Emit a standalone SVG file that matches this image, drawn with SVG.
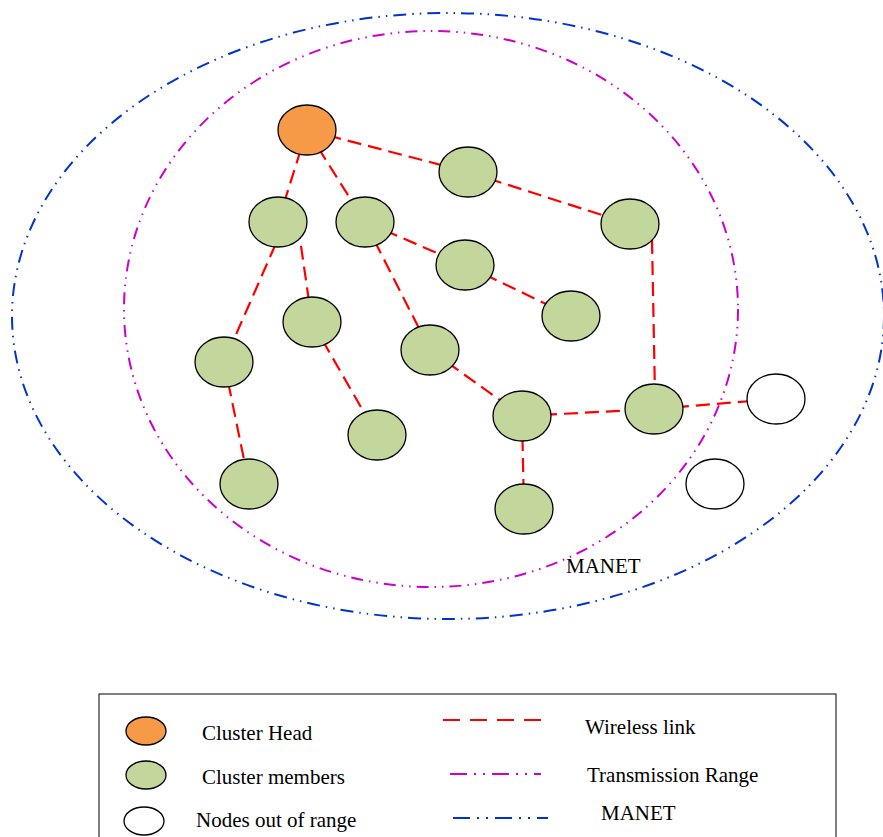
<svg xmlns="http://www.w3.org/2000/svg" width="883" height="837" viewBox="0 0 883 837">
<style>
.node{stroke:#000;stroke-width:1.3}
.ch{fill:#f79a48}
.cm{fill:#c3d69b}
.out{fill:#fff}
.link{stroke:#ff0000;stroke-width:2.2;stroke-dasharray:14 7;fill:none}
.tr{stroke:#cc00cc;stroke-width:2;stroke-dasharray:12 6 1.5 6 1.5 6;fill:none}
.mn{stroke:#0033cc;stroke-width:2;stroke-dasharray:13 6 1.5 6 1.5 6;fill:none}
.lg-link{stroke-dasharray:17 10}
.lg-tr{stroke-dasharray:17 7 2 7 2 7}
.lg-mn{stroke-dasharray:17 7 2 7 2 7}
text{font-family:"Liberation Serif","Times New Roman",serif;font-size:21px;fill:#000}
</style>
<rect width="883" height="837" fill="#fff"/>
<g id="ranges">
<ellipse id="manet-range" class="mn" cx="448" cy="316" rx="436" ry="303"/>
<ellipse id="transmission-range" class="tr" cx="431" cy="309" rx="307" ry="278"/>
</g>
<g id="connectors">
<line class="link" x1="307" y1="130" x2="468" y2="172"/>
<line class="link" x1="468" y1="172" x2="630" y2="224"/>
<line class="link" x1="652" y1="240" x2="655" y2="395"/>
<line class="link" x1="307" y1="130" x2="278" y2="222"/>
<line class="link" x1="307" y1="130" x2="365" y2="222"/>
<line class="link" x1="365" y1="222" x2="465" y2="265"/>
<line class="link" x1="465" y1="265" x2="571" y2="316"/>
<line class="link" x1="365" y1="222" x2="430" y2="350"/>
<line class="link" x1="284" y1="225" x2="224" y2="362"/>
<line class="link" x1="298" y1="225" x2="312" y2="322"/>
<line class="link" x1="312" y1="322" x2="377" y2="435"/>
<line class="link" x1="224" y1="362" x2="249" y2="484"/>
<line class="link" x1="430" y1="350" x2="522" y2="416"/>
<line class="link" x1="522" y1="416" x2="654" y2="409"/>
<line class="link" x1="522" y1="416" x2="524" y2="509"/>
<line class="link" x1="654" y1="409" x2="776" y2="399"/>
</g>
<g id="ch"><ellipse class="node ch" cx="307" cy="130" rx="29" ry="25"/></g>
<g id="n1"><ellipse class="node cm" cx="468" cy="172" rx="29" ry="25"/></g>
<g id="n2"><ellipse class="node cm" cx="630" cy="224" rx="29" ry="25"/></g>
<g id="n3"><ellipse class="node cm" cx="278" cy="222" rx="29" ry="25"/></g>
<g id="n4"><ellipse class="node cm" cx="365" cy="222" rx="29" ry="25"/></g>
<g id="n5"><ellipse class="node cm" cx="465" cy="265" rx="29" ry="25"/></g>
<g id="n6"><ellipse class="node cm" cx="571" cy="316" rx="29" ry="25"/></g>
<g id="n7"><ellipse class="node cm" cx="312" cy="322" rx="29" ry="25"/></g>
<g id="n8"><ellipse class="node cm" cx="224" cy="362" rx="29" ry="25"/></g>
<g id="n9"><ellipse class="node cm" cx="430" cy="350" rx="29" ry="25"/></g>
<g id="n10"><ellipse class="node cm" cx="522" cy="416" rx="29" ry="25"/></g>
<g id="n11"><ellipse class="node cm" cx="654" cy="409" rx="29" ry="25"/></g>
<g id="n12"><ellipse class="node cm" cx="377" cy="435" rx="29" ry="25"/></g>
<g id="n13"><ellipse class="node cm" cx="249" cy="484" rx="29" ry="25"/></g>
<g id="n14"><ellipse class="node cm" cx="524" cy="509" rx="29" ry="25"/></g>
<g id="o1"><ellipse class="node out" cx="776" cy="399" rx="29" ry="25"/></g>
<g id="o2"><ellipse class="node out" cx="715" cy="484" rx="29" ry="25"/></g>
<g id="manet-label"><text x="566" y="573">MANET</text></g>
<g id="legend">
<rect x="99" y="694" width="737" height="150" fill="#fff" stroke="#000" stroke-width="1"/>
<ellipse class="node ch" cx="146" cy="731" rx="20" ry="14"/>
<ellipse class="node cm" cx="146" cy="775" rx="20" ry="14"/>
<ellipse class="node out" cx="144" cy="821" rx="20" ry="14"/>
<text x="202" y="740">Cluster Head</text>
<text x="202" y="784">Cluster members</text>
<text x="196" y="827">Nodes out of range</text>
<line class="link lg-link" x1="443" y1="720" x2="548" y2="720"/>
<line class="tr lg-tr" x1="450" y1="774" x2="541" y2="774"/>
<line class="mn lg-mn" x1="453" y1="818" x2="548" y2="818"/>
<text x="585" y="734">Wireless link</text>
<text x="587" y="782">Transmission Range</text>
<text x="601" y="820">MANET</text>
</g>
</svg>
